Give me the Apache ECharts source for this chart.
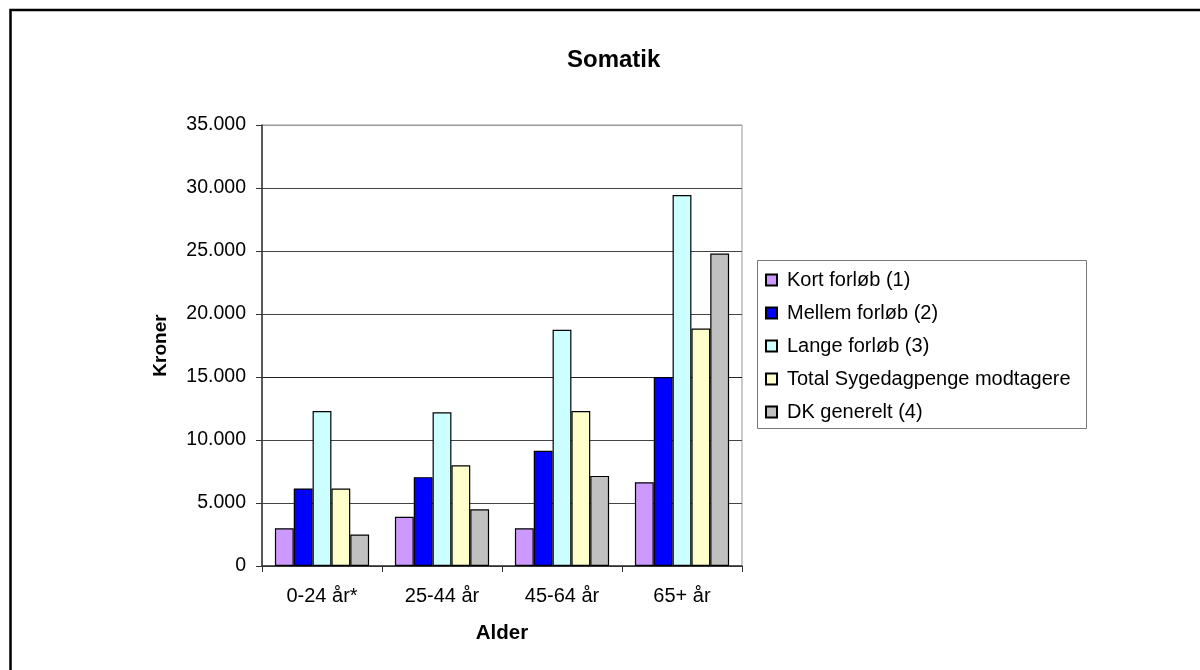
<!DOCTYPE html>
<html>
<head>
<meta charset="utf-8">
<script src="https://cdn.jsdelivr.net/npm/echarts@6/dist/echarts.min.js"></script>
<style>html,body{margin:0;padding:0;background:#fff}#c{width:1200px;height:670px}</style>
</head>
<body>
<div id="c"></div>
<script>
const categories = ['0-24 år*', '25-44 år', '45-64 år', '65+ år'];
const seriesNames = ['Kort forløb (1)', 'Mellem forløb (2)', 'Lange forløb (3)', 'Total Sygedagpenge modtagere', 'DK generelt (4)'];
const kort = [3000, 3900, 3000, 6650];
const mellem = [6150, 7050, 9150, 15000];
const lange = [12300, 12200, 18750, 29450];
const total = [6150, 8000, 12300, 18850];
const dk = [2500, 4500, 7150, 24800];
const colors = ['#CC99FF', '#0000FF', '#CCFFFF', '#FFFFCC', '#C0C0C0'];
const values = [kort, mellem, lange, total, dk];

const FONT = 'Liberation Sans, Arial, sans-serif';
const chart = echarts.init(document.getElementById('c'), null, {renderer: 'canvas'});
const fmt = v => String(v).replace(/\B(?=(\d{3})+(?!\d))/g, '.');

chart.setOption({
  backgroundColor: '#ffffff',
  animation: false,
  title: {
    text: 'Somatik', left: 562, top: 43,
    textStyle: {fontFamily: FONT, fontSize: 24, fontWeight: 'bold', color: '#000'}
  },
  grid: {left: 262, right: 458, top: 125, bottom: 104, show: true, borderColor: '#999', borderWidth: 1, containLabel: false},
  legend: {
    orient: 'vertical', left: 765, top: 269, padding: 0,
    itemWidth: 11, itemHeight: 11, itemGap: 11,
    icon: 'rect',
    data: seriesNames,
    textStyle: {fontFamily: FONT, fontSize: 20, color: '#000', lineHeight: 22, padding: [0, 0, 0, 5]}
  },
  xAxis: {
    type: 'category', data: categories,
    name: 'Alder', nameLocation: 'middle', nameGap: 57,
    nameTextStyle: {fontFamily: FONT, fontSize: 20.5, fontWeight: 'bold', color: '#000'},
    axisLine: {lineStyle: {color: '#333', width: 1.5}},
    axisTick: {show: true, length: 6, lineStyle: {color: '#333'}},
    axisLabel: {fontFamily: FONT, fontSize: 20, color: '#000', margin: 20}
  },
  yAxis: {
    type: 'value', min: 0, max: 35000, interval: 5000,
    name: 'Kroner', nameLocation: 'middle', nameGap: 92,
    nameTextStyle: {fontFamily: FONT, fontSize: 19, fontWeight: 'bold', color: '#000'},
    axisLine: {show: true, lineStyle: {color: '#333', width: 1.5}},
    axisTick: {show: true, length: 6, lineStyle: {color: '#333'}},
    axisLabel: {fontFamily: FONT, fontSize: 19.5, color: '#000', margin: 16, formatter: fmt},
    splitLine: {lineStyle: {color: ['#333', '#444', '#444', '#222', '#444', '#444', '#444', '#999'], width: 1}}
  },
  series: values.map((d, i) => ({
    name: seriesNames[i], type: 'bar', data: d,
    barGap: '0%', barCategoryGap: '21.5%',
    itemStyle: {color: colors[i], borderColor: '#000', borderWidth: 1.2}
  })),
  graphic: [
    {type: 'rect', shape: {x: 10.5, y: 10, width: 1300, height: 800}, style: {fill: null, stroke: '#000', lineWidth: 2.5}, silent: true},
    {type: 'rect', shape: {x: 757.5, y: 260.5, width: 329, height: 168}, style: {fill: null, stroke: '#777', lineWidth: 1}, silent: true}
  ]
});
</script>
</body>
</html>
